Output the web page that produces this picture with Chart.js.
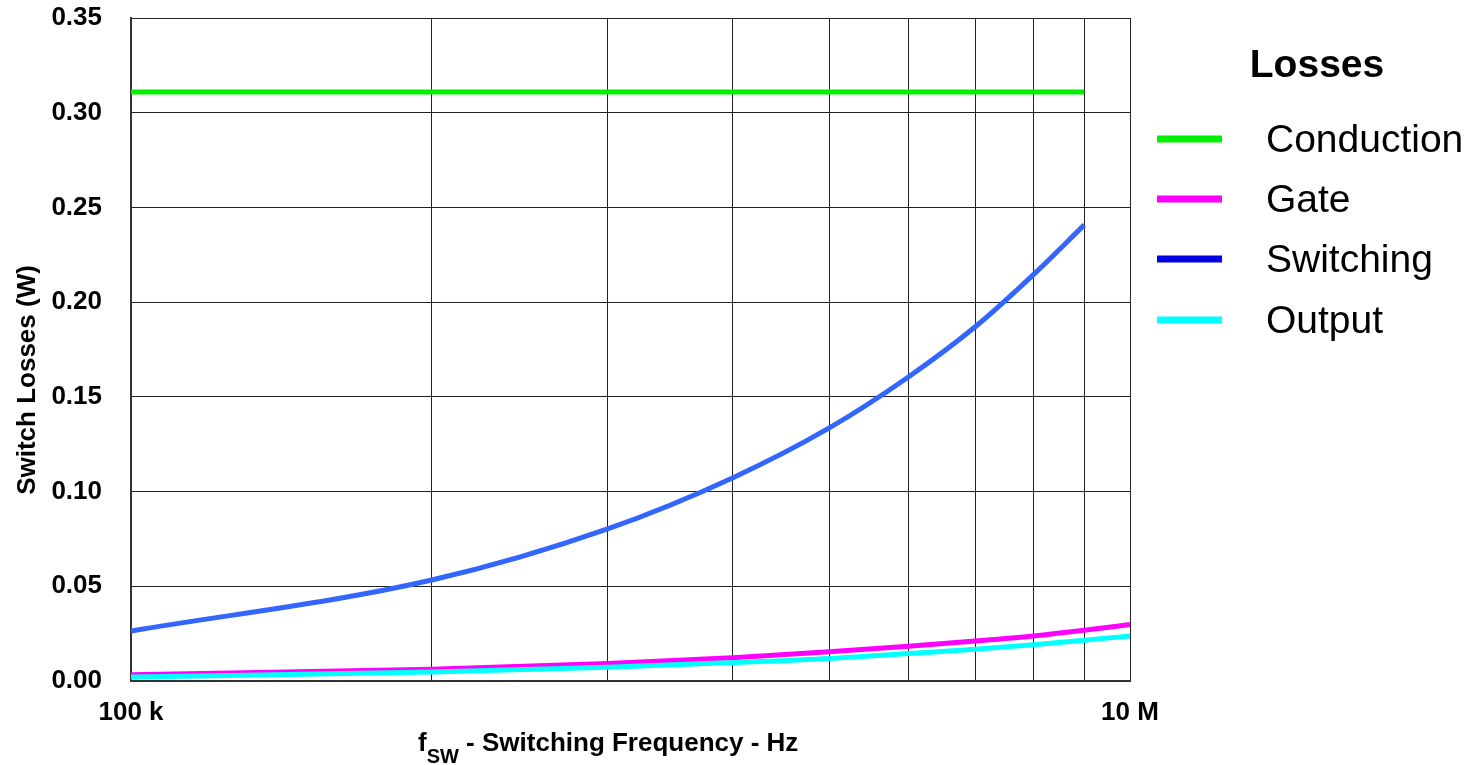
<!DOCTYPE html>
<html>
<head>
<meta charset="utf-8">
<script src="https://cdn.jsdelivr.net/npm/chart.js@4.4.1/dist/chart.umd.min.js"></script>
<style>
  html, body { margin: 0; padding: 0; background: #fff; }
  #chart { display: block; }
</style>
</head>
<body>
<canvas id="chart" width="1477" height="765"></canvas>
<script>
// frequency points (Hz) where the curves were read
const freqHz = [100e3, 200e3, 300e3, 400e3, 500e3, 600e3, 700e3, 800e3, 900e3, 1000e3];

// losses in W
const conductionLoss = [0.311, 0.311, 0.311, 0.311, 0.311, 0.311, 0.311, 0.311, 0.311, null];
const gateLoss = [0.0033, 0.0062, 0.0093, 0.0123, 0.0154, 0.0183, 0.0211, 0.0238, 0.0268, 0.0298];
const switchingLoss = [0.0264, 0.0533, 0.0803, 0.1072, 0.1336, 0.1605, 0.187, 0.2144, 0.2408, null];
const outputLoss = [0.0021, 0.0047, 0.0072, 0.0097, 0.0119, 0.0145, 0.0167, 0.0191, 0.0215, 0.0238];

const seriesNames = ["Conduction", "Gate", "Switching", "Output"];
const lineColors = ["#00f000", "#ff00ff", "#3366ff", "#00ffff"];
const legendColors = ["#00f000", "#ff00ff", "#0000e6", "#00ffff"];

const xTickLabels = ["100 k", "", "", "", "", "", "", "", "", "10 M"];
const yTickValues = [0, 0.05, 0.10, 0.15, 0.20, 0.25, 0.30, 0.35];

const FAMILY = "'Liberation Sans', Arial, sans-serif";
const BOLD = "bold 26px " + FAMILY;

const toPoints = (vals) => freqHz.map((f, i) => ({ x: f, y: vals[i] }));

// legend + axis titles drawn by hand (subscript, custom spacing)
const extrasPlugin = {
  id: "extras",
  afterDraw(chart) {
    const ctx = chart.ctx;
    ctx.save();
    ctx.fillStyle = "#000";

    // y title
    ctx.translate(28, 380);
    ctx.rotate(-Math.PI / 2);
    ctx.font = BOLD;
    ctx.textAlign = "center";
    ctx.textBaseline = "middle";
    ctx.fillText("Switch Losses (W)", 0, 0);
    ctx.setTransform(1, 0, 0, 1, 0, 0);

    // x title with subscript
    ctx.textAlign = "left";
    ctx.textBaseline = "alphabetic";
    let x = 418;
    ctx.font = BOLD;
    ctx.fillText("f", x, 751);
    x += ctx.measureText("f").width;
    ctx.font = "bold 20px " + FAMILY;
    ctx.fillText("SW", x, 763);
    x += ctx.measureText("SW").width;
    ctx.font = BOLD;
    ctx.fillText(" - Switching Frequency - Hz", x, 751);

    // legend
    ctx.font = "bold 39px " + FAMILY;
    ctx.textAlign = "center";
    ctx.fillText("Losses", 1317, 77);
    ctx.font = "39px " + FAMILY;
    ctx.textAlign = "left";
    const rows = [139, 199, 259, 320];
    seriesNames.forEach((name, i) => {
      ctx.strokeStyle = legendColors[i];
      ctx.lineWidth = 7;
      ctx.beginPath();
      ctx.moveTo(1157, rows[i]);
      ctx.lineTo(1222, rows[i]);
      ctx.stroke();
      ctx.fillText(name, 1266, rows[i] + 13);
    });
    ctx.restore();
  }
};

const datasets = [conductionLoss, gateLoss, switchingLoss, outputLoss].map((vals, i) => ({
  label: seriesNames[i],
  data: toPoints(vals),
  borderColor: lineColors[i],
  backgroundColor: lineColors[i],
  borderWidth: 5,
  pointRadius: 0,
  cubicInterpolationMode: "monotone",
  spanGaps: false
}));
// draw order: cyan on top of magenta, like the original
datasets[1].order = 2;
datasets[3].order = 1;

new Chart(document.getElementById("chart"), {
  type: "line",
  data: { datasets },
  options: {
    responsive: false,
    animation: false,
    layout: { padding: { top: 18, right: 347, left: 0, bottom: 0 } },
    plugins: {
      legend: { display: false },
      tooltip: { enabled: false }
    },
    scales: {
      x: {
        type: "logarithmic",
        min: 100e3,
        max: 1000e3,
        afterBuildTicks: (scale) => {
          scale.ticks = freqHz.map((v) => ({ value: v }));
        },
        afterFit: (scale) => {
          scale.height = 84;
          scale.paddingLeft = 0;
          scale.paddingRight = 0;
        },
        grid: { color: "#222", lineWidth: 1, drawTicks: false },
        border: { color: "#333", width: 2 },
        ticks: {
          autoSkip: false,
          maxRotation: 0,
          padding: 16,
          color: "#000",
          font: { family: FAMILY, size: 26, weight: "bold" },
          callback: (v, i) => xTickLabels[i]
        }
      },
      y: {
        type: "linear",
        min: 0,
        max: 0.35,
        afterBuildTicks: (scale) => {
          scale.ticks = yTickValues.map((v) => ({ value: v }));
        },
        afterFit: (scale) => {
          scale.width = 131;
          scale.paddingTop = 0;
          scale.paddingBottom = 0;
        },
        grid: { color: "#222", lineWidth: 1, drawTicks: false },
        border: { color: "#333", width: 2 },
        ticks: {
          padding: 29,
          color: "#000",
          font: { family: FAMILY, size: 26, weight: "bold" },
          callback: (v) => v.toFixed(2)
        }
      }
    }
  },
  plugins: [extrasPlugin]
});
</script>
</body>
</html>
